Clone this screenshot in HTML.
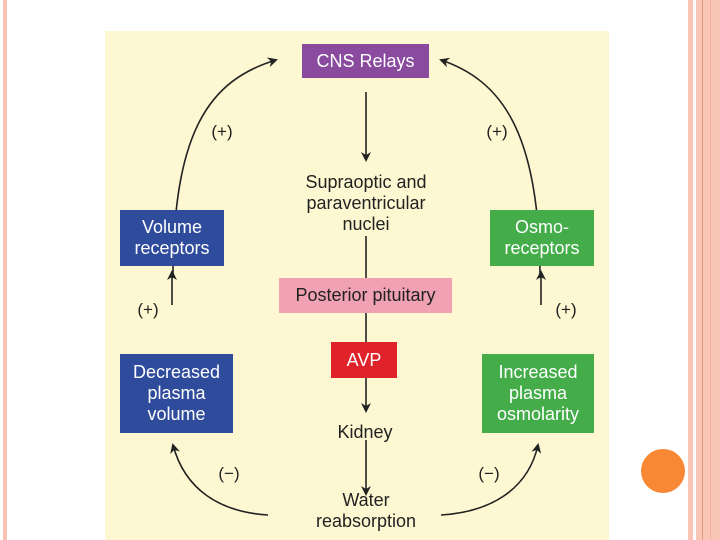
<!DOCTYPE html>
<html><head><style>
body{margin:0;width:720px;height:540px;background:#fff;position:relative;overflow:hidden;font-family:"Liberation Sans",sans-serif}
.a{position:absolute}
.b{position:absolute;color:#fff;display:flex;align-items:center;justify-content:center;text-align:center;font-size:18px;line-height:21px}
</style></head><body>
<div class="a" style="left:3px;top:0;width:4px;height:540px;background:#f7c3b2"></div>
<div class="a" style="left:688px;top:0;width:5px;height:540px;background:#f9c6b5"></div>
<div class="a" style="left:696px;top:0;width:24px;height:540px;background:#f9c6b5"></div>
<div class="a" style="left:702px;top:0;width:1px;height:540px;background:#e69a80"></div>
<div class="a" style="left:710px;top:0;width:1px;height:540px;background:#f2b09a"></div>
<div class="a" style="left:641px;top:449px;width:44px;height:44px;border-radius:50%;background:#f98834"></div>
<div class="a" style="left:105px;top:31px;width:504px;height:509px;background:#fdf8d2"></div>
<svg class="a" style="left:0;top:0" width="720" height="540">
<defs><marker id="m" markerWidth="10" markerHeight="10" refX="8" refY="5" orient="auto" markerUnits="userSpaceOnUse"><path d="M0,0 L10,5 L0,10 L3,5 z" fill="#222"/></marker></defs>
<g stroke="#222" stroke-width="1.6" fill="none">
<line x1="366" y1="92" x2="366" y2="160" marker-end="url(#m)"/>
<line x1="366" y1="236" x2="366" y2="280"/>
<line x1="366" y1="313" x2="366" y2="342"/>
<line x1="366" y1="378" x2="366" y2="411" marker-end="url(#m)"/>
<line x1="366" y1="440" x2="366" y2="494" marker-end="url(#m)"/>
<path d="M173,278 C173,130 210,80 276,60" marker-end="url(#m)"/>
<path d="M540,278 C540,130 500,80 441,60" marker-end="url(#m)"/>
<line x1="172" y1="305" x2="172" y2="272" marker-end="url(#m)"/>
<line x1="541" y1="305" x2="541" y2="272" marker-end="url(#m)"/>
<path d="M268,515 C220,512 185,490 173,445" marker-end="url(#m)"/>
<path d="M441,515 C490,512 528,490 538,445" marker-end="url(#m)"/>
</g>
<g font-family="Liberation Sans" font-size="17" fill="#222" text-anchor="middle">
<text x="222" y="137">(+)</text><text x="497" y="137">(+)</text>
<text x="148" y="315">(+)</text><text x="566" y="315">(+)</text>
<text x="229" y="479">(−)</text><text x="489" y="479">(−)</text>
</g>
</svg>
<div class="b" style="left:302px;top:44px;width:127px;height:34px;background:#8a4a9e">CNS Relays</div>
<div class="b" style="left:120px;top:210px;width:104px;height:56px;background:#2f4b9b">Volume<br>receptors</div>
<div class="b" style="left:490px;top:210px;width:104px;height:56px;background:#44ad4a">Osmo-<br>receptors</div>
<div class="b" style="left:279px;top:278px;width:173px;height:35px;background:#f0a1b2;color:#222">Posterior pituitary</div>
<div class="b" style="left:331px;top:342px;width:66px;height:36px;background:#e0222a">AVP</div>
<div class="b" style="left:120px;top:354px;width:113px;height:79px;background:#2f4b9b">Decreased<br>plasma<br>volume</div>
<div class="b" style="left:482px;top:354px;width:112px;height:79px;background:#44ad4a">Increased<br>plasma<br>osmolarity</div>
<div class="b" style="left:266px;top:170px;width:200px;height:66px;color:#222">Supraoptic and<br>paraventricular<br>nuclei</div>
<div class="b" style="left:300px;top:420px;width:130px;height:24px;color:#222">Kidney</div>
<div class="b" style="left:266px;top:489px;width:200px;height:44px;color:#222">Water<br>reabsorption</div>
</body></html>
